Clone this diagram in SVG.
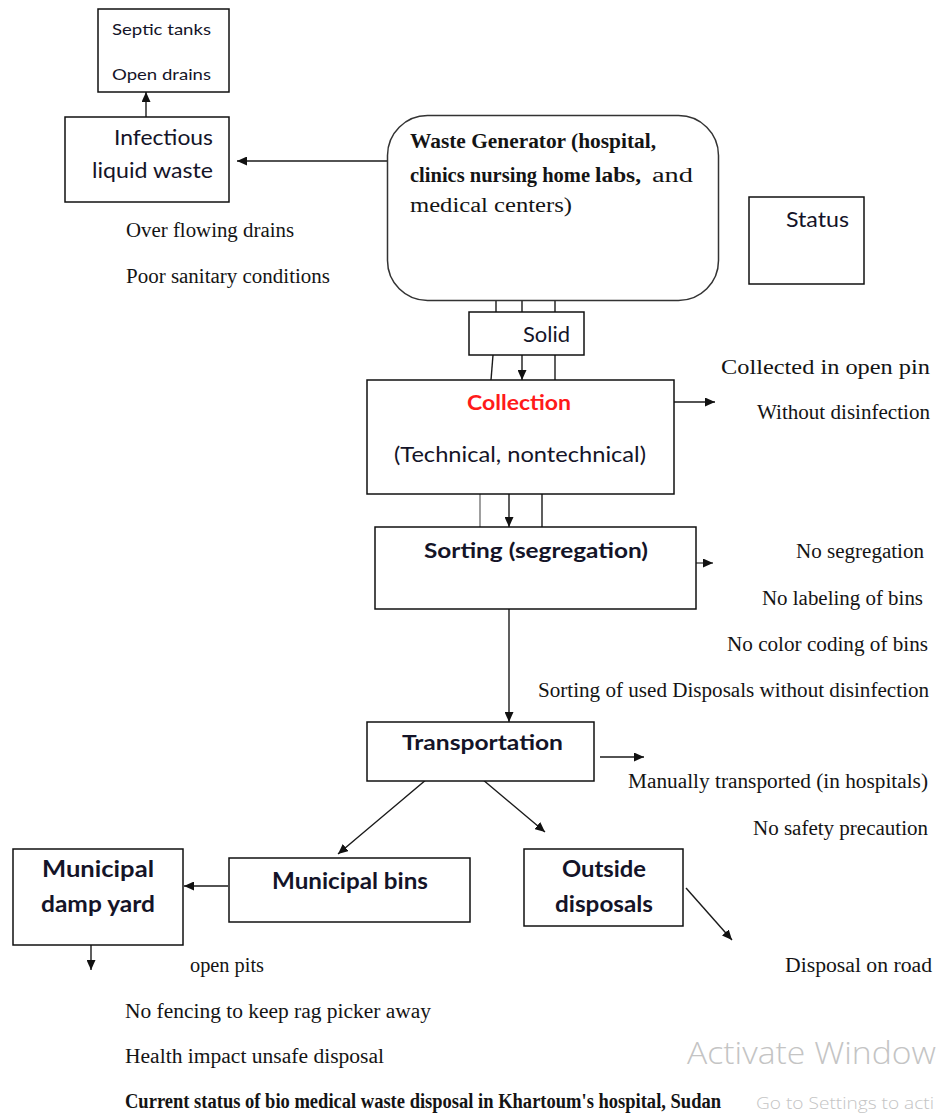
<svg xmlns="http://www.w3.org/2000/svg" width="936" height="1115" viewBox="0 0 936 1115">
<style>
.box{fill:#fff;stroke:#111;stroke-width:1.5}
.ln{stroke:#1a1a1a;stroke-width:1.4;fill:none}
.arr{stroke:#1a1a1a;stroke-width:1.4;fill:none;marker-end:url(#ah)}
.sans{font-family:Lato,"Liberation Sans",sans-serif;fill:#141428}
.serif{font-family:"Liberation Serif","Times New Roman",serif;fill:#141414;font-size:20px}
.b{font-weight:bold}
.wm{font-family:"Open Sans","Noto Sans",sans-serif;fill:#c4c4c4;font-weight:300}
</style>
<defs>
<marker id="ah" markerUnits="userSpaceOnUse" markerWidth="11" markerHeight="9" refX="10" refY="4.5" orient="auto">
<path d="M0,0 L10,4.5 L0,9 z" fill="#111"/>
</marker>
</defs>

<g id="connectors">
<line class="arr" x1="146" y1="117" x2="146" y2="92"/>
<line class="arr" x1="387" y1="161" x2="237" y2="161"/>
<line class="ln" x1="496" y1="300" x2="496" y2="312"/>
<line class="ln" x1="522" y1="300" x2="522" y2="312"/>
<line class="ln" x1="555" y1="300" x2="555" y2="312"/>
<line class="ln" x1="493" y1="355" x2="491" y2="380"/>
<line class="arr" x1="522" y1="355" x2="522" y2="380"/>
<line class="ln" x1="555" y1="355" x2="555" y2="380"/>
<line class="arr" x1="672" y1="402" x2="715" y2="402"/>
<line class="ln" x1="480" y1="488" x2="480" y2="527" style="stroke:#777"/>
<line class="arr" x1="509" y1="478" x2="509" y2="527"/>
<line class="ln" x1="542" y1="490" x2="542" y2="527"/>
<line class="arr" x1="660" y1="563" x2="713" y2="563" style="stroke:#555"/>
<line class="arr" x1="509" y1="598" x2="509" y2="722"/>
<line class="arr" x1="600" y1="757" x2="644" y2="757"/>
<line class="arr" x1="427" y1="779" x2="338" y2="854"/>
<line class="arr" x1="482" y1="779" x2="545" y2="832"/>
<line class="arr" x1="228" y1="886" x2="184" y2="886"/>
<line class="arr" x1="686" y1="888" x2="732" y2="940"/>
<line class="arr" x1="91" y1="918" x2="91" y2="970"/>
</g>

<g id="septic">
<rect class="box" x="98" y="9" width="131" height="83"/>
<text class="sans" x="112" y="35" font-size="16" textLength="99" lengthAdjust="spacingAndGlyphs">Septic tanks</text>
<text class="sans" x="112" y="80" font-size="16" textLength="99" lengthAdjust="spacingAndGlyphs">Open drains</text>
</g>

<g id="infectious">
<rect class="box" x="65" y="117" width="164" height="85"/>
<text class="sans" x="114" y="145" font-size="22" textLength="99" lengthAdjust="spacingAndGlyphs">Infectious</text>
<text class="sans" x="92" y="178" font-size="22" textLength="121" lengthAdjust="spacingAndGlyphs">liquid waste</text>
</g>

<g id="liquid-notes">
<text class="serif" x="126" y="237" textLength="168" lengthAdjust="spacingAndGlyphs">Over flowing drains</text>
<text class="serif" x="126" y="283" textLength="204" lengthAdjust="spacingAndGlyphs">Poor sanitary conditions</text>
</g>

<g id="generator">
<rect class="box" x="387.5" y="115.5" width="331" height="185" rx="40" ry="40" style="stroke:#333"/>
<text class="serif b" x="410" y="148" textLength="246" lengthAdjust="spacingAndGlyphs">Waste Generator (hospital,</text>
<text class="serif b" x="410" y="182" textLength="180" lengthAdjust="spacingAndGlyphs">clinics nursing home</text>
<text class="serif b" x="595" y="182" font-size="23" textLength="46" lengthAdjust="spacingAndGlyphs">labs,</text>
<text class="serif" x="652" y="182" font-size="23" textLength="41" lengthAdjust="spacingAndGlyphs">and</text>
<text class="serif" x="410" y="212" font-size="23" textLength="162" lengthAdjust="spacingAndGlyphs">medical centers)</text>
</g>

<g id="status">
<rect class="box" x="749" y="197" width="115" height="87"/>
<text class="sans" x="786" y="227" font-size="21" textLength="63" lengthAdjust="spacingAndGlyphs">Status</text>
</g>

<g id="solid">
<rect class="box" x="469" y="312" width="115" height="43"/>
<text class="sans" x="523" y="342" font-size="21" textLength="47" lengthAdjust="spacingAndGlyphs">Solid</text>
</g>

<g id="collection">
<rect class="box" x="367" y="380" width="307" height="114"/>
<text class="sans b" x="467" y="410" font-size="21" style="fill:#ff1a1a" textLength="104" lengthAdjust="spacingAndGlyphs">Collection</text>
<text class="sans" x="394" y="462" font-size="21" textLength="252" lengthAdjust="spacingAndGlyphs">(Technical, nontechnical)</text>
</g>

<g id="collection-notes">
<text class="serif" x="721" y="374" textLength="209" lengthAdjust="spacingAndGlyphs">Collected in open pin</text>
<text class="serif" x="757" y="419" textLength="173" lengthAdjust="spacingAndGlyphs">Without disinfection</text>
</g>

<g id="sorting">
<rect class="box" x="375" y="527" width="321" height="82"/>
<text class="sans b" x="424" y="558" font-size="21" textLength="224" lengthAdjust="spacingAndGlyphs">Sorting (segregation)</text>
</g>

<g id="sorting-notes">
<text class="serif" x="796" y="558" textLength="128" lengthAdjust="spacingAndGlyphs">No segregation</text>
<text class="serif" x="762" y="605" textLength="161" lengthAdjust="spacingAndGlyphs">No labeling  of bins</text>
<text class="serif" x="727" y="651" textLength="201" lengthAdjust="spacingAndGlyphs">No color coding of bins</text>
<text class="serif" x="538" y="697" textLength="391" lengthAdjust="spacingAndGlyphs">Sorting of used Disposals without disinfection</text>
</g>

<g id="transportation">
<rect class="box" x="367" y="722" width="227" height="59"/>
<text class="sans b" x="402" y="750" font-size="21" textLength="161" lengthAdjust="spacingAndGlyphs">Transportation</text>
</g>

<g id="transport-notes">
<text class="serif" x="628" y="788" textLength="300" lengthAdjust="spacingAndGlyphs">Manually transported  (in hospitals)</text>
<text class="serif" x="753" y="835" textLength="175" lengthAdjust="spacingAndGlyphs">No safety precaution</text>
</g>

<g id="damp-yard">
<rect class="box" x="13" y="849" width="170" height="96"/>
<text class="sans b" x="98" y="877" font-size="22" text-anchor="middle" textLength="112" lengthAdjust="spacingAndGlyphs">Municipal</text>
<text class="sans b" x="98" y="912" font-size="22" text-anchor="middle" textLength="114" lengthAdjust="spacingAndGlyphs">damp yard</text>
</g>

<g id="municipal-bins">
<rect class="box" x="229" y="858" width="241" height="64"/>
<text class="sans b" x="350" y="889" font-size="22" text-anchor="middle" textLength="156" lengthAdjust="spacingAndGlyphs">Municipal bins</text>
</g>

<g id="outside">
<rect class="box" x="524" y="849" width="159" height="77"/>
<text class="sans b" x="604" y="877" font-size="22" text-anchor="middle" textLength="84" lengthAdjust="spacingAndGlyphs">Outside</text>
<text class="sans b" x="604" y="912" font-size="22" text-anchor="middle" textLength="98" lengthAdjust="spacingAndGlyphs">disposals</text>
</g>

<g id="disposal-notes">
<text class="serif" x="785" y="972" textLength="147" lengthAdjust="spacingAndGlyphs">Disposal on road</text>
<text class="serif" x="190" y="972" textLength="74" lengthAdjust="spacingAndGlyphs">open pits</text>
<text class="serif" x="125" y="1018" textLength="306" lengthAdjust="spacingAndGlyphs">No fencing to keep rag picker  away</text>
<text class="serif" x="125" y="1063" textLength="259" lengthAdjust="spacingAndGlyphs">Health impact unsafe disposal</text>
</g>

<g id="watermark">
<text class="wm" x="687" y="1064" font-size="31" textLength="249" lengthAdjust="spacingAndGlyphs">Activate Window</text>
<text class="wm" x="756" y="1109" font-size="17" textLength="178" lengthAdjust="spacingAndGlyphs">Go to Settings to acti</text>
</g>

<g id="caption">
<text class="serif b" x="125" y="1108" font-size="18.5" textLength="596" lengthAdjust="spacingAndGlyphs">Current status of bio medical waste disposal in Khartoum's hospital, Sudan</text>
</g>
</svg>
